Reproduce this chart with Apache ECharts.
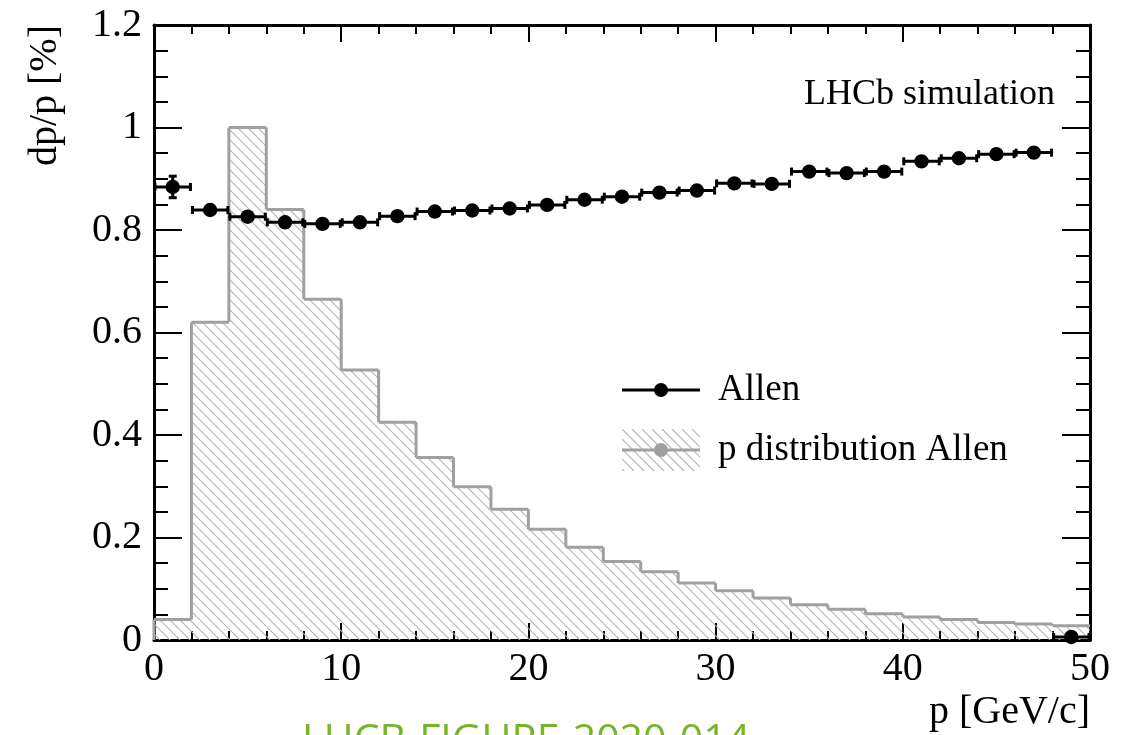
<!DOCTYPE html>
<html>
<head>
<meta charset="utf-8">
<script src="https://cdn.jsdelivr.net/npm/echarts@6/dist/echarts.min.js"></script>
<style>
html,body{margin:0;padding:0;background:#fff;}
#chart{width:1135px;height:735px;}
</style>
</head>
<body>
<div id="chart"></div>
<script>
// ---- data ----
const binCenters = [1, 3, 5, 7, 9, 11, 13, 15, 17, 19, 21, 23, 25, 27, 29, 31, 33, 35, 37, 39, 41, 43, 45, 47, 49];
const binHalfWidth = 1;
const histValues = [0.040, 0.620, 1.000, 0.840, 0.665, 0.527, 0.425, 0.356, 0.299, 0.255, 0.216, 0.181, 0.153, 0.133, 0.111, 0.096, 0.082, 0.069, 0.060, 0.051, 0.045, 0.040, 0.034, 0.031, 0.028];
const allenValues = [0.884, 0.839, 0.826, 0.815, 0.812, 0.815, 0.827, 0.836, 0.838, 0.842, 0.849, 0.859, 0.865, 0.873, 0.877, 0.891, 0.890, 0.914, 0.911, 0.914, 0.934, 0.940, 0.948, 0.951, 0.006];
const allenErrors = [0.021, 0.004, 0.003, 0.003, 0.003, 0.003, 0.003, 0.003, 0.003, 0.003, 0.003, 0.003, 0.003, 0.003, 0.003, 0.003, 0.004, 0.004, 0.004, 0.004, 0.004, 0.004, 0.004, 0.004, 0.004];
const seriesNames = ['Allen', 'p distribution Allen'];
const xTitle = 'p [GeV/c]';
const yTitle = 'dp/p [%]';
const labelText = 'LHCb simulation';
const footerText = 'LHCB-FIGURE-2020-014';

// ---- helpers ----
const SERIF = "'Liberation Serif', 'Times New Roman', serif";
function hatchCanvas(){
  const c = document.createElement('canvas');
  c.width = 10; c.height = 10;
  const g = c.getContext('2d');
  g.strokeStyle = '#b4b4b4';
  g.lineWidth = 1.1;
  g.beginPath();
  g.moveTo(-1,-1); g.lineTo(11,11);
  g.moveTo(-6,4); g.lineTo(6,16);
  g.moveTo(4,-6); g.lineTo(16,6);
  g.stroke();
  return c;
}
const HATCH = hatchCanvas();
function iconAllen(w,h){
  const c = document.createElement('canvas'); c.width=w; c.height=h;
  const g = c.getContext('2d');
  g.strokeStyle='#000'; g.lineWidth=3;
  g.beginPath(); g.moveTo(0,h/2); g.lineTo(78,h/2); g.stroke();
  g.fillStyle='#000'; g.beginPath(); g.arc(39,h/2,7,0,Math.PI*2); g.fill();
  return 'image://' + c.toDataURL();
}
function iconHist(w,h){
  const c = document.createElement('canvas'); c.width=w; c.height=h;
  const g = c.getContext('2d');
  g.save(); g.beginPath(); g.rect(0,0,78,h); g.clip();
  g.strokeStyle='#b4b4b4'; g.lineWidth=1.1;
  g.beginPath();
  for(let k=-60;k<120;k+=10){ g.moveTo(k,0); g.lineTo(k+h,h); }
  g.stroke(); g.restore();
  g.strokeStyle='#a0a0a0'; g.lineWidth=3;
  g.beginPath(); g.moveTo(0,h/2); g.lineTo(78,h/2); g.stroke();
  g.fillStyle='#a0a0a0'; g.beginPath(); g.arc(39,h/2,7,0,Math.PI*2); g.fill();
  return 'image://' + c.toDataURL();
}

const histData = binCenters.map((c,i)=>[c, histValues[i], i > 0 ? histValues[i-1] : 0]);
const allenData = binCenters.map((c,i)=>[c, allenValues[i], allenErrors[i]]);

const chart = echarts.init(document.getElementById('chart'), null, {renderer:'canvas'});
const axisLineStyle = {color:'#000', width:3};
const tickStyle = {color:'#000', width:2};
const LW = 91, LH = 42;

function xAxisCfg(pos, showLabel){
  return {
    type:'value', position:pos, min:0, max:50, interval:10,
    axisLine:{show:true, onZero:false, lineStyle:axisLineStyle},
    axisTick:{show:true, inside:true, length:17, lineStyle:tickStyle},
    minorTick:{show:true, splitNumber:5, length:9, lineStyle:tickStyle},
    splitLine:{show:false}, minorSplitLine:{show:false},
    axisLabel:{show:showLabel, color:'#000', fontFamily:SERIF, fontSize:40, margin:9},
  };
}
function yAxisCfg(pos, showLabel){
  return {
    type:'value', position:pos, min:0, max:1.2, interval:0.2,
    axisLine:{show:true, onZero:false, lineStyle:axisLineStyle},
    axisTick:{show:true, inside:true, length:28, lineStyle:tickStyle},
    minorTick:{show:true, splitNumber:4, length:14, lineStyle:tickStyle},
    splitLine:{show:false}, minorSplitLine:{show:false},
    axisLabel:{show:showLabel, color:'#000', fontFamily:SERIF, fontSize:40, margin:12,
      formatter:(v)=>String(Math.round(v*10)/10)},
  };
}

const option = {
  animation:false,
  backgroundColor:'#fff',
  grid:{left:154, right:45, top:25, bottom:95, containLabel:false},
  xAxis:[xAxisCfg('bottom', true), xAxisCfg('top', false)],
  yAxis:[yAxisCfg('left', true), yAxisCfg('right', false)],
  legend:{
    orient:'vertical', left:622, top:369, padding:0, itemWidth:LW, itemHeight:LH, itemGap:18,
    textStyle:{color:'#000', fontFamily:SERIF, fontSize:37},
    selectedMode:false,
    data:[
      {name:seriesNames[0], icon:iconAllen(LW,LH)},
      {name:seriesNames[1], icon:iconHist(LW,LH)}
    ]
  },
  series:[
    {
      name:seriesNames[1], type:'custom', data:histData,
      xAxisIndex:0, yAxisIndex:0, z:1,
      itemStyle:{color:'#a0a0a0'},
      renderItem:function(params, api){
        const c = api.value(0), v = api.value(1), prev = api.value(2);
        const p0 = api.coord([c-binHalfWidth, 0]);
        const p1 = api.coord([c+binHalfWidth, v]);
        const pPrev = api.coord([c-binHalfWidth, prev]);
        const st = {stroke:'#a0a0a0', lineWidth:3, fill:null};
        const ch = [
          {type:'rect', shape:{x:p0[0], y:p1[1], width:p1[0]-p0[0], height:p0[1]-p1[1]},
            style:{fill:{image:HATCH, repeat:'repeat'}, stroke:null}},
          {type:'line', shape:{x1:p0[0], y1:p1[1], x2:p1[0], y2:p1[1]}, style:st},
          {type:'line', shape:{x1:p0[0], y1:pPrev[1], x2:p0[0], y2:p1[1]}, style:st}
        ];
        return {type:'group', children:ch};
      }
    },
    {
      name:seriesNames[0], type:'custom', data:allenData, xAxisIndex:0, yAxisIndex:0, z:5,
      itemStyle:{color:'#000'},
      renderItem:function(params, api){
        const x = api.value(0), y = api.value(1), e = api.value(2);
        const pL = api.coord([x-binHalfWidth, y]);
        const pR = api.coord([x+binHalfWidth, y]);
        const pT = api.coord([x, y+e]);
        const pB = api.coord([x, y-e]);
        const pC = api.coord([x, y]);
        const st = {stroke:'#000', lineWidth:3, fill:null};
        const ch = [
          {type:'line', shape:{x1:pL[0], y1:pL[1], x2:pR[0], y2:pR[1]}, style:st},
          {type:'line', shape:{x1:pL[0]+1, y1:pL[1]-4, x2:pL[0]+1, y2:pL[1]+4}, style:st},
          {type:'line', shape:{x1:pR[0]-1, y1:pR[1]-4, x2:pR[0]-1, y2:pR[1]+4}, style:st},
          {type:'line', shape:{x1:pT[0], y1:pT[1], x2:pB[0], y2:pB[1]}, style:st},
          {type:'line', shape:{x1:pT[0]-4, y1:pT[1], x2:pT[0]+4, y2:pT[1]}, style:st},
          {type:'line', shape:{x1:pB[0]-4, y1:pB[1], x2:pB[0]+4, y2:pB[1]}, style:st},
          {type:'circle', shape:{cx:pC[0], cy:pC[1], r:7.2}, style:{fill:'#000'}}
        ];
        return {type:'group', children:ch};
      }
    }
  ],
  graphic:[
    {type:'text', x:1055, y:95, style:{text:labelText, fill:'#000', font:"36px "+SERIF, textAlign:'right', textVerticalAlign:'middle'}},
    {type:'text', x:1090, y:712, style:{text:xTitle, fill:'#000', font:"40px "+SERIF, textAlign:'right', textVerticalAlign:'middle'}},
    {type:'text', x:45, y:25, rotation:Math.PI/2, style:{text:yTitle, fill:'#000', font:"40px "+SERIF, textAlign:'right', textVerticalAlign:'middle'}},
    {type:'text', x:302, y:741, style:{text:footerText, fill:'#78b526', font:"41px 'Open Sans', sans-serif", textAlign:'left', textVerticalAlign:'middle'}}
  ]
};
chart.setOption(option);
</script>
</body>
</html>
